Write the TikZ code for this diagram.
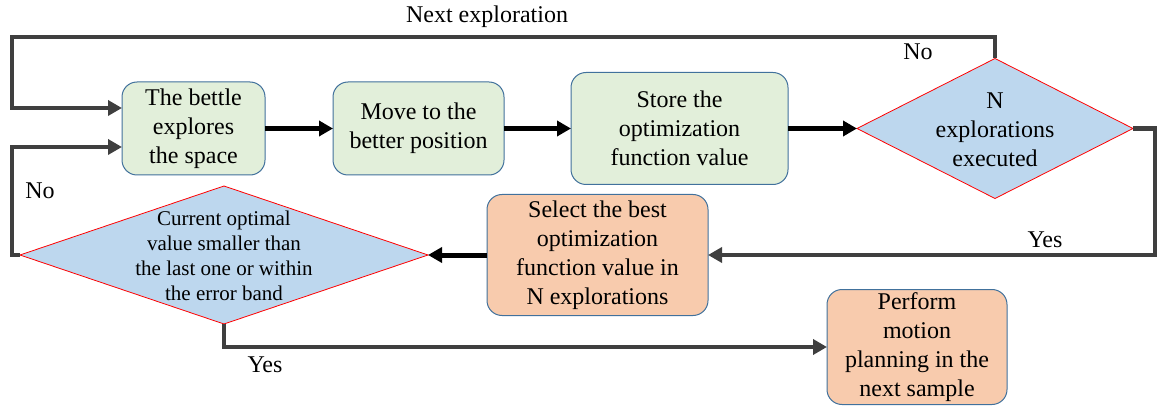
\documentclass[tikz,border=0pt]{standalone}
\usepackage{fontspec}
\setmainfont{Liberation Serif}
\usetikzlibrary{shapes.geometric,arrows.meta}
\definecolor{boxgreen}{HTML}{E2EFDA}
\definecolor{boxsalmon}{HTML}{F8CBAD}
\definecolor{diafill}{HTML}{BDD7EE}
\definecolor{boxedge}{HTML}{41719C}
\definecolor{loopgray}{HTML}{3F3F3F}
\tikzset{
  procbox/.style={draw=boxedge, line width=1pt, rounded corners=15pt, inner sep=0pt, outer sep=0pt, align=center, font=\fontsize{24}{29}\selectfont},
  greenbox/.style={procbox, fill=boxgreen},
  salmonbox/.style={procbox, fill=boxsalmon},
  decision/.style={diamond, draw=red, line width=0.8pt, fill=diafill, inner sep=0pt, outer sep=0pt},
  dtext/.style={align=center, inner sep=0pt},
  mainarrow/.style={line width=5pt, draw=black, -{Triangle[length=14pt,width=15pt]}},
  looparrow/.style={line width=4.5pt, draw=loopgray, -{Triangle[length=14pt,width=15pt]}},
  lbl/.style={font=\fontsize{24}{29}\selectfont, inner sep=0pt}
}
\begin{document}
\begin{tikzpicture}[x=1pt,y=-1pt]
\useasboundingbox (0,0) rectangle (1159,406);
% process boxes
\node[greenbox, minimum width=143pt, minimum height=93pt] (b1) at (193.5,128.5) {The bettle\\explores\\the space};
\node[greenbox, minimum width=171pt, minimum height=93pt] (b2) at (418.5,128.5) {Move to the\\better position};
\node[greenbox, minimum width=217pt, minimum height=112pt] (b3) at (679.5,128.5) {Store the\\optimization\\function value};
\node[salmonbox, minimum width=221pt, minimum height=121pt] (b4) at (597.5,255) {Select the best\\optimization\\function value in\\N explorations};
\node[salmonbox, minimum width=180pt, minimum height=115pt] (b5) at (917,347) {Perform\\motion\\planning in the\\next sample};
% decisions
\node[decision, minimum width=276pt, minimum height=140pt] (d1) at (995,128.5) {};
\node[dtext, font=\fontsize{24}{29}\selectfont] (d1t) at (995,130) {N\\explorations\\executed};
\node[decision, minimum width=408pt, minimum height=138pt] (d2) at (224,255) {};
\node[dtext, font=\fontsize{21}{25}\selectfont] (d2t) at (224,256) {Current optimal\\value smaller than\\the last one or within\\the error band};
% free corner points
\coordinate (topL) at (12,37);
\coordinate (midL) at (12,255);
% main flow
\draw[mainarrow] (b1.east) -- (b2.west);
\draw[mainarrow] (b2.east) -- (b3.west);
\draw[mainarrow] (b3.east) -- (d1.west);
\draw[mainarrow] (b4.west) -- (d2.east);
% loops
\draw[looparrow] (d1.north) |- (topL) |- ([yshift=20.5pt]b1.west);
\draw[looparrow] (d2.west) -- (midL) |- ([yshift=-18.5pt]b1.west);
\draw[looparrow] (d1.east) -- ++(22,0) |- (b4.east);
\draw[looparrow] (d2.south) |- (b5.west);
% labels
\node[lbl] (lnext) at (487,17) {Next exploration};
\node[lbl] (lno1) at (918,52) {No};
\node[lbl] (lno2) at (40,191) {No};
\node[lbl] (lyes1) at (1045,240) {Yes};
\node[lbl] (lyes2) at (265,365) {Yes};
\end{tikzpicture}
\end{document}
